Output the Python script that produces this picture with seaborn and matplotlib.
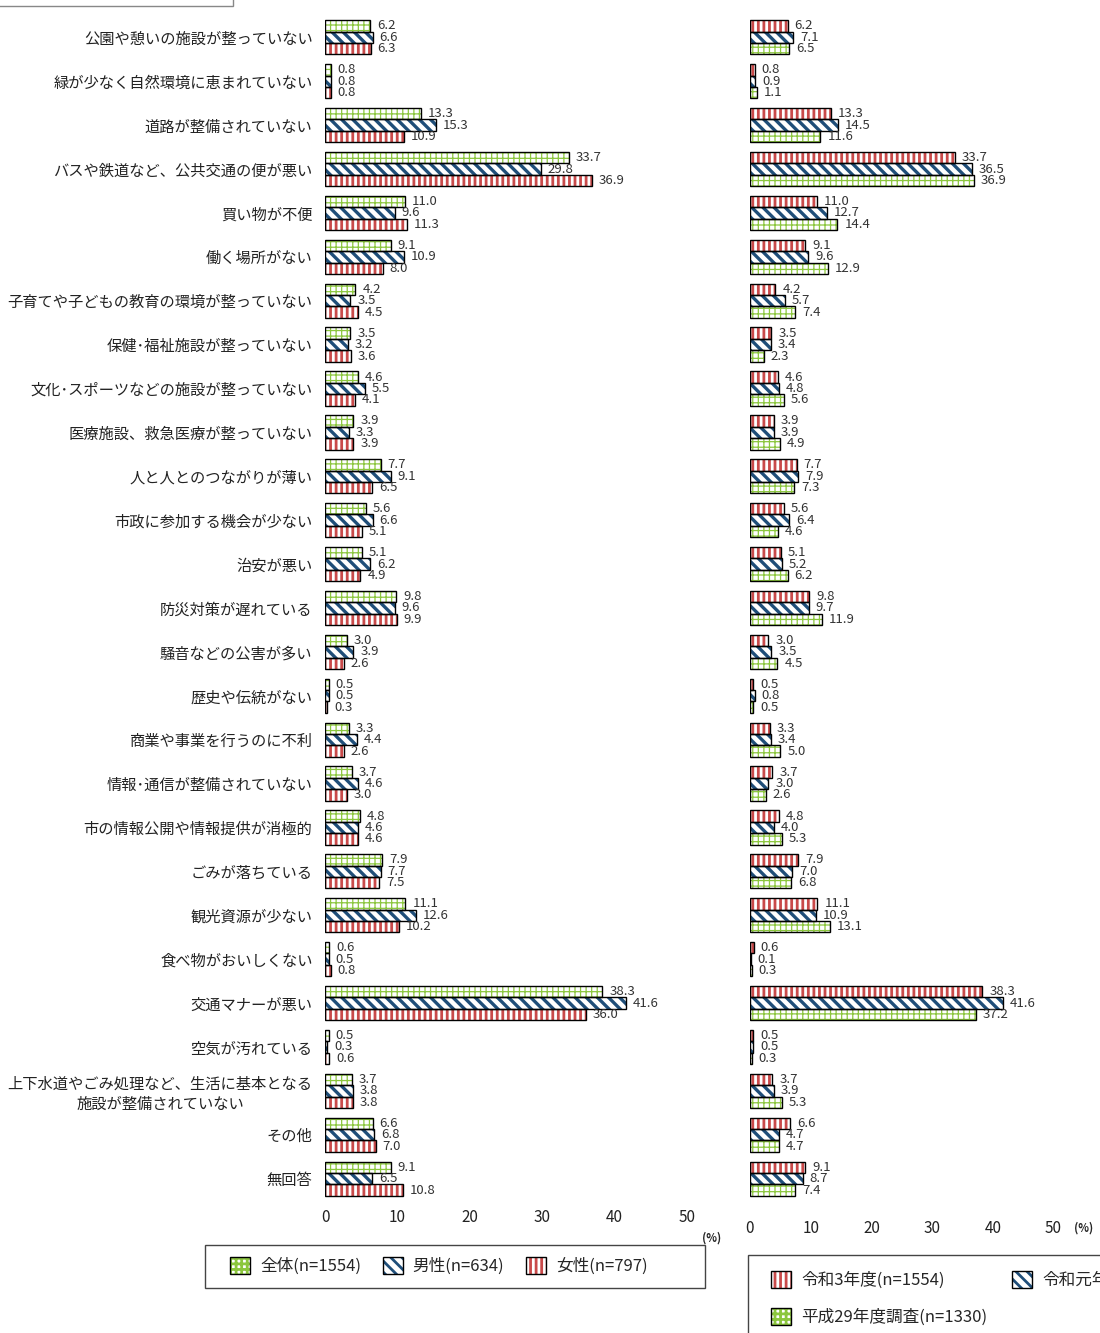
import seaborn as sns
import matplotlib.pyplot as plt
import pandas as pd
import numpy as np
from matplotlib.patches import Patch, Rectangle
from matplotlib.legend_handler import HandlerTuple

sns.set_style("white")
plt.rcParams['font.family'] = ['Noto Sans CJK JP', 'DejaVu Sans']
plt.rcParams['hatch.linewidth'] = 2.0

# ---- data ----
items = [
    "公園や憩いの施設が整っていない",
    "緑が少なく自然環境に恵まれていない",
    "道路が整備されていない",
    "バスや鉄道など、公共交通の便が悪い",
    "買い物が不便",
    "働く場所がない",
    "子育てや子どもの教育の環境が整っていない",
    "保健･福祉施設が整っていない",
    "文化･スポーツなどの施設が整っていない",
    "医療施設、救急医療が整っていない",
    "人と人とのつながりが薄い",
    "市政に参加する機会が少ない",
    "治安が悪い",
    "防災対策が遅れている",
    "騒音などの公害が多い",
    "歴史や伝統がない",
    "商業や事業を行うのに不利",
    "情報･通信が整備されていない",
    "市の情報公開や情報提供が消極的",
    "ごみが落ちている",
    "観光資源が少ない",
    "食べ物がおいしくない",
    "交通マナーが悪い",
    "空気が汚れている",
    "上下水道やごみ処理など、生活に基本となる\n施設が整備されていない",
    "その他",
    "無回答",
]

total = [6.2, 0.8, 13.3, 33.7, 11.0, 9.1, 4.2, 3.5, 4.6, 3.9, 7.7, 5.6, 5.1, 9.8,
         3.0, 0.5, 3.3, 3.7, 4.8, 7.9, 11.1, 0.6, 38.3, 0.5, 3.7, 6.6, 9.1]
male = [6.6, 0.8, 15.3, 29.8, 9.6, 10.9, 3.5, 3.2, 5.5, 3.3, 9.1, 6.6, 6.2, 9.6,
        3.9, 0.5, 4.4, 4.6, 4.6, 7.7, 12.6, 0.5, 41.6, 0.3, 3.8, 6.8, 6.5]
female = [6.3, 0.8, 10.9, 36.9, 11.3, 8.0, 4.5, 3.6, 4.1, 3.9, 6.5, 5.1, 4.9, 9.9,
          2.6, 0.3, 2.6, 3.0, 4.6, 7.5, 10.2, 0.8, 36.0, 0.6, 3.8, 7.0, 10.8]

r3 = [6.2, 0.8, 13.3, 33.7, 11.0, 9.1, 4.2, 3.5, 4.6, 3.9, 7.7, 5.6, 5.1, 9.8,
      3.0, 0.5, 3.3, 3.7, 4.8, 7.9, 11.1, 0.6, 38.3, 0.5, 3.7, 6.6, 9.1]
r1 = [7.1, 0.9, 14.5, 36.5, 12.7, 9.6, 5.7, 3.4, 4.8, 3.9, 7.9, 6.4, 5.2, 9.7,
      3.5, 0.8, 3.4, 3.0, 4.0, 7.0, 10.9, 0.1, 41.6, 0.5, 3.9, 4.7, 8.7]
h29 = [6.5, 1.1, 11.6, 36.9, 14.4, 12.9, 7.4, 2.3, 5.6, 4.9, 7.3, 4.6, 6.2, 11.9,
       4.5, 0.5, 5.0, 2.6, 5.3, 6.8, 13.1, 0.3, 37.2, 0.3, 5.3, 4.7, 7.4]

left_series = ["全体(n=1554)", "男性(n=634)", "女性(n=797)"]
right_series = ["令和3年度(n=1554)", "令和元年度調査(n=1406)", "平成29年度調査(n=1330)"]

# (hatch colour, hatch pattern, hatch linewidth)
GREEN = ("#8cc63e", "+++", 0.9)
BLUE = ("#1f4e79", "\\\\\\", 2.4)
RED = ("#c94a4a", "|||", 2.0)
left_styles = {left_series[0]: GREEN, left_series[1]: BLUE, left_series[2]: RED}
right_styles = {right_series[0]: RED, right_series[1]: BLUE, right_series[2]: GREEN}

left_df = pd.DataFrame({
    "item": items * 3,
    "value": total + male + female,
    "series": np.repeat(left_series, len(items)),
})
right_df = pd.DataFrame({
    "item": items * 3,
    "value": r3 + r1 + h29,
    "series": np.repeat(right_series, len(items)),
})


def style_patch(p, st):
    color, hatch, hlw = st
    p.set_facecolor("white")
    p.set_edgecolor(color)
    p.set_hatch(hatch)
    p.set_linewidth(0)
    if hasattr(p, "set_hatch_linewidth"):
        p.set_hatch_linewidth(hlw)


def draw_panel(ax, df, order, styles, tick_pad):
    sns.barplot(data=df, y="item", x="value", hue="series", hue_order=order,
                order=items, orient="h", palette=[styles[s][0] for s in order],
                width=0.78, saturation=1, legend=False, ax=ax, errorbar=None)
    for cont, s in zip(ax.containers, order):
        for bar in cont:
            style_patch(bar, styles[s])
            ax.add_patch(Rectangle(bar.get_xy(), bar.get_width(), bar.get_height(),
                                   fill=False, edgecolor="black", lw=1.0, zorder=3))
        ax.bar_label(cont, fmt="%.1f", padding=5, fontsize=9.5, color="#333333")
    ax.set_xlim(0, 50)
    ax.set_ylim(26.6, -0.85)
    ax.set_xticks([0, 10, 20, 30, 40, 50])
    ax.tick_params(axis="x", length=0, pad=tick_pad, labelsize=11, colors="#222222")
    ax.tick_params(axis="y", length=0)
    ax.set_xlabel("")
    ax.set_ylabel("")
    for sp in ax.spines.values():
        sp.set_visible(False)


fig = plt.figure(figsize=(11, 13.33), dpi=100)
H = 1333
W = 1100
ax1 = fig.add_axes([325 / W, 1 - 1205 / H, 362 / W, 1205 / H])
ax2 = fig.add_axes([750 / W, 1 - 1205 / H, 303.5 / W, 1205 / H])
ax1.patch.set_alpha(0)
ax2.patch.set_alpha(0)

draw_panel(ax1, left_df, left_series, left_styles, 3)
draw_panel(ax2, right_df, right_series, right_styles, 11)

ax1.tick_params(axis="y", labelsize=11, pad=9, colors="#222222")
for lab in ax1.get_yticklabels():
    lab.set_multialignment("center")
ax2.set_yticklabels([])

fig.text(712 / W, 1 - 1238 / H, "(%)", fontsize=8, fontweight="bold", ha="center", va="center")
fig.text(1084 / W, 1 - 1228 / H, "(%)", fontsize=8, fontweight="bold", ha="center", va="center")


def legend_handles(order, styles):
    hs = []
    for s in order:
        color, hatch, hlw = styles[s]
        p = Patch(facecolor="white", edgecolor=color, hatch=hatch, lw=0)
        if hasattr(p, "set_hatch_linewidth"):
            p.set_hatch_linewidth(hlw)
        hs.append((p, Patch(fill=False, edgecolor="black", lw=1.0)))
    return hs


h1 = legend_handles(left_series, left_styles)
fig.legend(h1, left_series, loc="center left", bbox_to_anchor=(215 / W, 1 - 1266 / H),
           ncol=3, frameon=False, fontsize=12, handlelength=1.2, handleheight=1.2,
           handletextpad=0.6, columnspacing=1.3,
           handler_map={tuple: HandlerTuple(ndivide=1)})
fig.add_artist(Rectangle((205 / W, 1 - 1288 / H), 500 / W, 43 / H, transform=fig.transFigure,
                         fill=False, edgecolor="#444444", lw=1.0))

rorder = [right_series[0], right_series[2], right_series[1]]
h2 = legend_handles(rorder, right_styles)
fig.legend(h2, rorder, loc="upper left", bbox_to_anchor=(756 / W, 1 - 1256 / H),
           ncol=2, frameon=False, fontsize=12, handlelength=1.2, handleheight=1.2,
           handletextpad=0.6, columnspacing=1.5, labelspacing=1.1,
           handler_map={tuple: HandlerTuple(ndivide=1)})
fig.add_artist(Rectangle((748 / W, 1 - 1345 / H), 400 / W, 90 / H, transform=fig.transFigure,
                         fill=False, edgecolor="#444444", lw=1.0))

# partial box at the top-left corner
fig.add_artist(Rectangle((-5 / W, 1 - 6 / H), 238 / W, 30 / H, transform=fig.transFigure,
                         fill=False, edgecolor="#888888", lw=1.0))

fig.savefig("out.png", dpi=100)
plt.close(fig)
